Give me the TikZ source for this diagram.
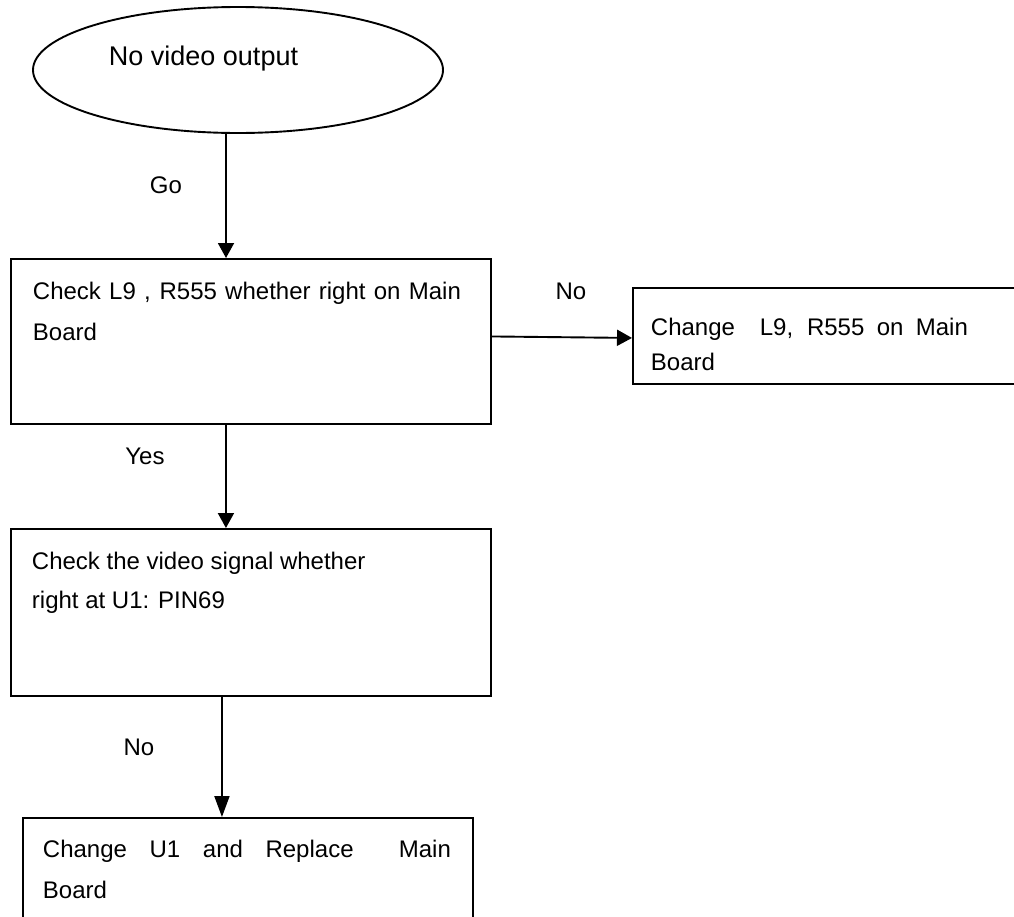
\documentclass[tikz,border=0pt]{standalone}
\usepackage{fontspec}
\setmainfont{Liberation Sans}
\usetikzlibrary{shapes.geometric,arrows.meta}
\begin{document}
\begin{tikzpicture}[x=1pt,y=-1pt,
  line width=1.9pt,
  box/.style={draw=black,line width=1.9pt,rectangle,inner sep=0pt,anchor=north west},
  oval/.style={draw=black,line width=1.9pt,ellipse,inner sep=0pt},
  txt/.style={inner sep=0pt,anchor=base west,font=\fontsize{24}{41}\selectfont},
  lbl/.style={inner sep=0pt,font=\fontsize{24}{28}\selectfont},
  arr/.style={draw=black,line width=1.9pt,-{Triangle[length=15pt,width=16pt]}},
  arrl/.style={draw=black,line width=1.9pt,-{Triangle[length=21pt,width=15pt]}}]
\useasboundingbox (0,0) rectangle (1014,916);
\fill[white] (0,0) rectangle (1014,916);

% start ellipse
\node[oval,minimum width=410pt,minimum height=126pt] (start) at (238,70) {};
\node[inner sep=0pt,anchor=base west,font=\fontsize{27}{32}\selectfont] (tstart) at (108,65) {No video output};

% boxes
\node[box,minimum width=480pt,minimum height=165pt] (b1) at (10,258) {};
\node[txt] (t1) at (32,299) {\parbox[t]{428pt}{\fontsize{24}{41}\selectfont Check L9 , R555 whether right on Main\linebreak Board}};

\node[box,minimum width=400pt,minimum height=96pt] (b2) at (632,287) {};
\node[txt] (t2) at (650,335) {\parbox[t]{317pt}{\fontsize{24}{35}\selectfont Change\ \ L9, R555 on Main\linebreak Board}};

\node[box,minimum width=480pt,minimum height=167pt] (b3) at (10,528) {};
\node[txt] (t3) at (31,569) {\parbox[t]{440pt}{\raggedright\fontsize{24}{39}\selectfont Check the video signal whether\\ right at U1: PIN69}};

\node[box,minimum width=450pt,minimum height=120pt] (b4) at (22,817) {};
\node[txt] (t4) at (42,857) {\parbox[t]{408pt}{\fontsize{24}{41}\selectfont Change U1 and Replace\ \ Main\linebreak Board}};

% connectors
\draw[arr] ([xshift=-12pt]start.south) -- ([xshift=-12pt]start.south |- b1.north);
\draw[arr] ([yshift=5pt]b1.east) -- ([yshift=-2pt]b2.west);
\draw[arr] ([xshift=-25pt]b1.south) -- ([xshift=-25pt]b1.south |- b3.north);
\draw[arrl] ([xshift=-29pt]b3.south) -- ([xshift=-29pt]b3.south |- b4.north);

% labels
\node[lbl] (lgo) at (166,185) {Go};
\node[lbl] (lno1) at (571,291) {No};
\node[lbl] (lyes) at (145,456) {Yes};
\node[lbl] (lno2) at (139,747) {No};
\end{tikzpicture}
\end{document}
